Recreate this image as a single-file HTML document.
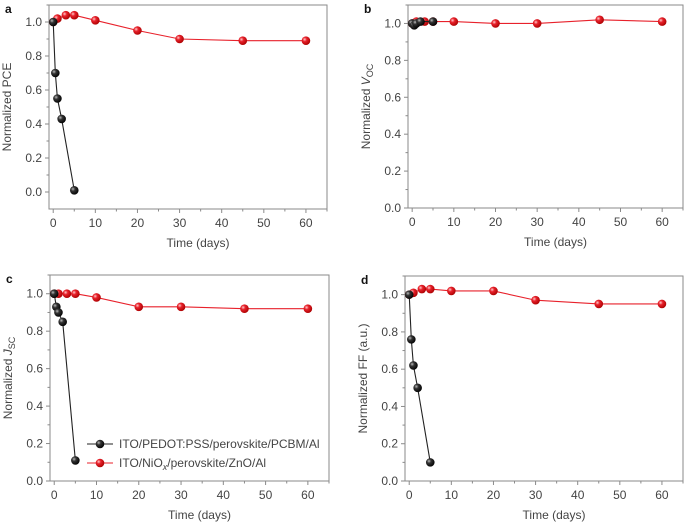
<!DOCTYPE html>
<html><head><meta charset="utf-8"><style>
body{margin:0;background:#fff;}
svg{display:block;font-family:"Liberation Sans",sans-serif;}
</style></head><body>
<svg id="chart" width="685" height="527" viewBox="0 0 685 527">
<defs>
<radialGradient id="gk" cx="0.35" cy="0.35" r="0.7"><stop offset="0" stop-color="#bbb"/><stop offset="0.35" stop-color="#333"/><stop offset="1" stop-color="#000"/></radialGradient>
<radialGradient id="gr" cx="0.35" cy="0.35" r="0.7"><stop offset="0" stop-color="#fcc"/><stop offset="0.35" stop-color="#e8212b"/><stop offset="1" stop-color="#a00"/></radialGradient>
</defs>
</svg>
<script>
const blackX=[0,0.5,1,2,5];
const redX=[0,1,3,5,10,20,30,45,60];
const aBlack=[1.0,0.70,0.55,0.43,0.01];
const aRed=[1.0,1.02,1.04,1.04,1.01,0.95,0.90,0.89,0.89];
const bBlack=[1.0,0.99,1.0,1.01,1.01];
const bRed=[1.0,1.01,1.01,1.01,1.01,1.0,1.0,1.02,1.01];
const cBlack=[1.0,0.93,0.90,0.85,0.11];
const cRed=[1.0,1.0,1.0,1.0,0.98,0.93,0.93,0.92,0.92];
const dBlack=[1.0,0.76,0.62,0.50,0.10];
const dRed=[1.0,1.01,1.03,1.03,1.02,1.02,0.97,0.95,0.95];
const xTicks=[0,10,20,30,40,50,60];
const yTicks=[0,0.2,0.4,0.6,0.8,1.0];
const NS="http://www.w3.org/2000/svg";
const svg=document.getElementById('chart');
function mk(tag,attrs,parent){const e=document.createElementNS(NS,tag);for(const k in attrs)e.setAttribute(k,attrs[k]);(parent||svg).appendChild(e);return e;}
const panels=[
 {id:'a',L:49,R:327,T:5,B:209,ymin:-0.1,ymax:1.1,blk:aBlack,red:aRed,ylab:'Normalized PCE'},
 {id:'b',L:408,R:683,T:5,B:208,ymin:0,ymax:1.1,blk:bBlack,red:bRed,ylabH:'VOC'},
 {id:'c',L:50,R:329,T:275,B:481,ymin:0,ymax:1.1,blk:cBlack,red:cRed,ylabH:'JSC'},
 {id:'d',L:405,R:683,T:276,B:481,ymin:0,ymax:1.1,blk:dBlack,red:dRed,ylab:'Normalized FF (a.u.)'}
];
panels.forEach(p=>{
 const g=mk('g',{});
 
 
 const xs=v=>p.L+(v+1)/66*(p.R-p.L);
 const ys=v=>p.B-(v-p.ymin)/(p.ymax-p.ymin)*(p.B-p.T);
 const box=mk('rect',{x:p.L,y:p.T,width:p.R-p.L,height:p.B-p.T,fill:'none',stroke:'#8a8a8a','stroke-width':1},g);
 
 const pl=mk('text',{x:p.L-44,y:p.T+8,'font-size':12,'font-weight':'bold',fill:'#111'},g);pl.textContent=p.id;
 
 for(let v=0;v<=65;v+=5){const x=xs(v);mk('line',{x1:x,x2:x,y1:p.B,y2:p.B+(v%10==0?4:2.5),stroke:'#8a8a8a'},g);}
 xTicks.forEach(v=>{const t=mk('text',{x:xs(v),y:p.B+18,'font-size':12,'text-anchor':'middle',fill:'#444'},g);t.textContent=v;
  });
 for(let v=0;v<=p.ymax+1e-6;v+=0.1){const y=ys(v);const maj=Math.round(v*10)%2==0;mk('line',{x1:p.L,x2:p.L-(maj?4:2.5),y1:y,y2:y,stroke:'#8a8a8a'},g);}
 yTicks.forEach(v=>{const t=mk('text',{x:p.L-7,y:ys(v)+4,'font-size':12,'text-anchor':'end',fill:'#444'},g);t.textContent=v.toFixed(1);
  });
 const xt=mk('text',{x:(p.L+p.R)/2+10,y:p.B+38,'font-size':12,'text-anchor':'middle',fill:'#444'},g);xt.textContent='Time (days)';
 
 const cy=(p.T+p.B)/2;
 const yt=mk('text',{x:0,y:0,'font-size':12,'text-anchor':'middle',fill:'#444',transform:`translate(${p.L-38},${cy}) rotate(-90)`},g);
 if(p.ylabH=='VOC'){yt.innerHTML='Normalized <tspan font-style="italic">V</tspan><tspan font-size="9" dy="3">OC</tspan>';}
 else if(p.ylabH=='JSC'){yt.innerHTML='Normalized <tspan font-style="italic">J</tspan><tspan font-size="9" dy="3">SC</tspan>';}
 else yt.textContent=p.ylab;
 
 [[redX,p.red,'#e8212b','url(#gr)','red-series'],[blackX,p.blk,'#222','url(#gk)','black-series']].forEach(([X,Y,c,f,nm])=>{
  const pts=X.map((x,i)=>xs(x)+','+ys(Y[i])).join(' ');
  const ln=mk('polyline',{points:pts,fill:'none',stroke:c,'stroke-width':1.1},g);
  
  X.forEach((x,i)=>{const m=mk('circle',{cx:xs(x),cy:ys(Y[i]),r:4.3,fill:f},g);
   });
 });
 if(p.id=='c'){
  const lg=mk('g',{},g);
  [['ITO/PEDOT:PSS/perovskite/PCBM/Al','#222','url(#gk)',444],['ITO/NiO<tspan font-style="italic" font-size="9" dy="3">x</tspan><tspan dy="-3">/perovskite/ZnO/Al</tspan>','#e8212b','url(#gr)',463]].forEach(([t,c,f,y])=>{
   const e=mk('g',{},lg);
   mk('line',{x1:87,x2:113,y1:y,y2:y,stroke:c,'stroke-width':1.1},e);
   mk('circle',{cx:100,cy:y,r:4.3,fill:f},e);
   const tx=mk('text',{x:119,y:y+4,'font-size':12,fill:'#444'},e);tx.innerHTML=t;
  });
 }
});
</script>
</body></html>
